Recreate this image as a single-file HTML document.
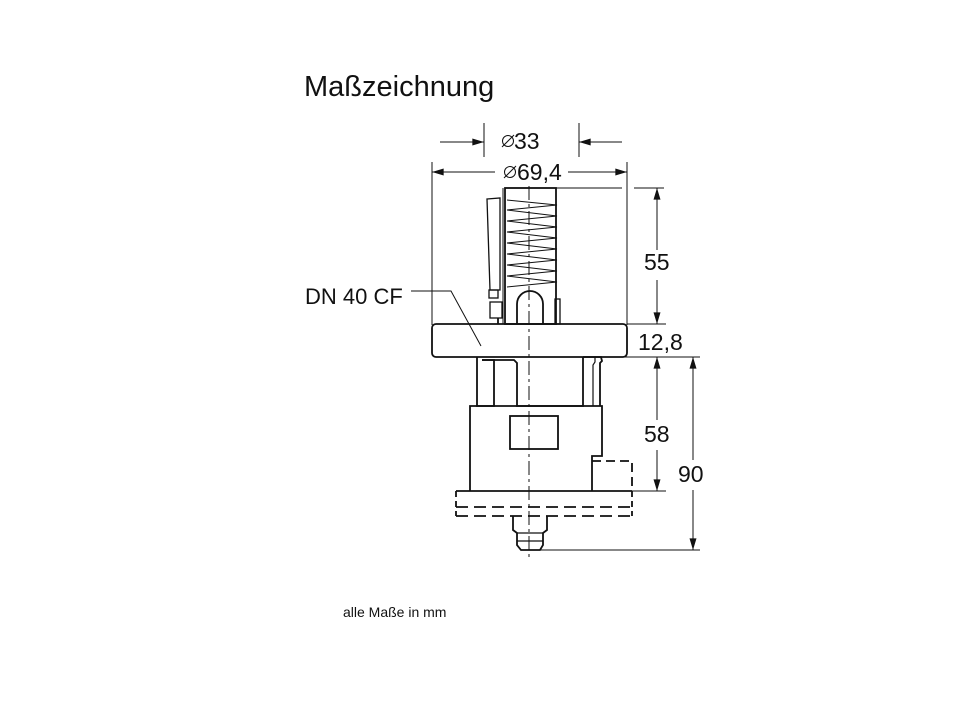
<!DOCTYPE html>
<html><head><meta charset="utf-8"><style>html,body{margin:0;padding:0;background:#fff}svg{display:block}</style></head>
<body>
<svg width="960" height="720" viewBox="0 0 960 720" xmlns="http://www.w3.org/2000/svg" font-family="Liberation Sans, sans-serif" fill="none" stroke="#111">
<defs>
<marker id="a" viewBox="0 0 10 6" refX="10" refY="3" markerWidth="16" markerHeight="7" markerUnits="userSpaceOnUse" orient="auto"><path d="M0,0 L10,3 L0,6 Z" fill="#111" stroke="none"/></marker>
</defs>
<text x="304" y="96" font-size="29" fill="#111" stroke="none">Maßzeichnung</text>
<text x="343" y="617" font-size="14" fill="#111" stroke="none">alle Maße in mm</text>
<text x="305" y="304" font-size="22" fill="#111" stroke="none">DN 40 CF</text>
<g fill="#111" stroke="none" font-size="23">
<text x="514" y="149">33</text>
<text x="517" y="180">69,4</text>
<text x="644" y="270">55</text>
<text x="638" y="350">12,8</text>
<text x="644" y="442">58</text>
<text x="678" y="482">90</text>
</g>
<g stroke-width="1">
<circle cx="508" cy="141" r="5.5"/><line x1="502" y1="147" x2="514" y2="135"/>
<circle cx="510" cy="172" r="5.5"/><line x1="504" y1="178" x2="516" y2="166"/>
<line x1="484" y1="123" x2="484" y2="157"/><line x1="579" y1="123" x2="579" y2="157"/>
<line x1="440" y1="142" x2="484" y2="142" marker-end="url(#a)"/>
<line x1="622" y1="142" x2="579" y2="142" marker-end="url(#a)"/>
<line x1="432" y1="162" x2="432" y2="325"/><line x1="627" y1="162" x2="627" y2="325"/>
<line x1="495" y1="172" x2="432" y2="172" marker-end="url(#a)"/>
<line x1="568" y1="172" x2="627" y2="172" marker-end="url(#a)"/>
<line x1="556" y1="188" x2="622" y2="188"/>
<line x1="634" y1="188" x2="664" y2="188"/><line x1="627" y1="324" x2="666" y2="324"/>
<line x1="657" y1="250" x2="657" y2="188" marker-end="url(#a)"/>
<line x1="657" y1="280" x2="657" y2="324" marker-end="url(#a)"/>
<line x1="600" y1="357" x2="700" y2="357"/>
<line x1="632" y1="491" x2="666" y2="491"/>
<line x1="540" y1="550" x2="700" y2="550"/>
<line x1="657" y1="420" x2="657" y2="357" marker-end="url(#a)"/>
<line x1="657" y1="450" x2="657" y2="491" marker-end="url(#a)"/>
<line x1="693" y1="460" x2="693" y2="357" marker-end="url(#a)"/>
<line x1="693" y1="490" x2="693" y2="550" marker-end="url(#a)"/>
<polyline points="411,291 451,291 481,346"/>
<line x1="529" y1="186" x2="529" y2="560" stroke-dasharray="14,4,3,4"/>
</g>
<g stroke-width="1.8">
<rect x="432" y="324" width="195" height="33" rx="4"/>
<rect x="505" y="188" width="51" height="136"/>
<path d="M507,200 L557,205 L507,210 L557,216 L507,221 L557,227 L507,232 L557,238 L507,243 L557,249 L507,254 L557,260 L507,265 L557,271 L507,276 L557,282 L507,287" stroke-width="1"/>
<path d="M487,199 L500,198 L500,290 L490,290 Z" stroke-width="1.3"/>
<rect x="489" y="290" width="9" height="8" stroke-width="1.3"/>
<rect x="490" y="302" width="12" height="16" stroke-width="1.3"/>
<line x1="498" y1="318" x2="498" y2="324"/>
<line x1="503" y1="188" x2="503" y2="324" stroke-width="1"/>
<path d="M517,324 L517,304 A13,13 0 0 1 543,304 L543,324"/>
<rect x="555" y="299" width="5" height="25" stroke-width="1.3"/>
<path d="M477,357 L477,406 L494,406 L494,360 L482,360"/>
<path d="M482,360 L514,360 L517,363 L517,406 L583,406 L583,357"/>
<path d="M583,357 L601,357 L602,361 L600,363 L600,406"/>
<path d="M595,357 L595,362 L593,365 L593,406" stroke-width="1.2"/>
<path d="M470,491 L470,406 L602,406 L602,456 L592,456 L592,491"/>
<rect x="510" y="416" width="48" height="33"/>
<path d="M592,461 L632,461 L632,491" stroke-dasharray="9,5"/>
<line x1="456" y1="491" x2="632" y2="491"/>
<line x1="456" y1="491" x2="456" y2="516" stroke-dasharray="6,4"/>
<line x1="632" y1="491" x2="632" y2="516" stroke-dasharray="6,4"/>
<line x1="456" y1="507" x2="632" y2="507" stroke-dasharray="12,6"/>
<line x1="456" y1="516" x2="632" y2="516" stroke-dasharray="12,6"/>
<path d="M513,516 L513,530 L517,533 L517,545 L521,550 L540,550 L543,545 L543,533 L547,530 L547,516"/>
<line x1="517" y1="533" x2="543" y2="533" stroke-width="1.2"/>
<line x1="517" y1="541" x2="543" y2="541" stroke-width="1.2"/>
</g>
</svg>
</body></html>
